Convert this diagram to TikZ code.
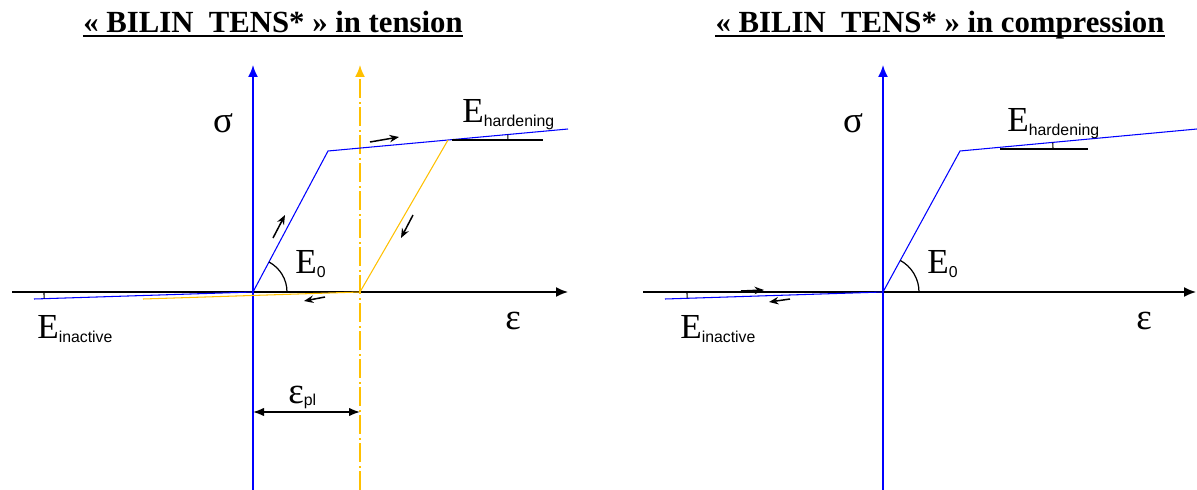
\documentclass[tikz,border=0pt]{standalone}
\usepackage{fontspec}
\setmainfont{Liberation Serif}
\setsansfont{Liberation Sans}
\usetikzlibrary{arrows.meta}
\definecolor{curveblue}{RGB}{0,0,255}
\definecolor{unload}{RGB}{255,192,0}
\newcommand{\Elab}[1]{\fontsize{20}{20}\selectfont E\raisebox{-0.09cm}{\sffamily\fontsize{9}{9}\selectfont #1}}
\newcommand{\greek}[1]{\fontsize{21}{21}\selectfont #1}

\begin{document}
\begin{tikzpicture}[x=0.02cm,y=-0.02cm,
	axis/.style={line width=0.9pt,-{Latex[length=0.24cm,width=0.2cm]}},
	law/.style={curveblue,line width=0.6pt},
	unl/.style={unload,line width=0.6pt},
	move/.style={line width=0.85pt,-{Stealth[length=0.19cm,width=0.15cm]}},
	lab/.style={inner sep=0pt,anchor=base west},
	title/.style={inner sep=0pt,anchor=base,font=\bfseries\fontsize{17.5}{17.5}\selectfont}]
	\useasboundingbox (0,0) rectangle (1197,490);

	% tension
	\node[title] (T1) at (273,32) {« BILIN\ \ TENS* » in tension};
	\draw[line width=0.9pt] ([yshift=-0.08cm]T1.base west) -- ([yshift=-0.08cm]T1.base east);
	\coordinate (O1) at (253,292);
	\coordinate (Y1) at (328,151);
	\coordinate (U1) at (448,140);
	\coordinate (H1) at (568,129);
	\coordinate (P1) at (360,292);
	\coordinate (N1) at (34,299);
	\coordinate (R1) at (143,299);
	\coordinate (xa1) at (12,292);
	\coordinate (xb1) at (568,292);
	\coordinate (ya1) at (253,490);
	\coordinate (yb1) at (253,65);
	\coordinate (pa1) at (360,490);
	\coordinate (pb1) at (360,65);
	\coordinate (ha1) at (452,140);
	\coordinate (hb1) at (543,140);
	\coordinate (da1) at (253,412);
	\coordinate (db1) at (360,412);
	\draw[axis] (xa1) -- (xb1);
	\draw[axis,curveblue,line width=1pt] (ya1) -- (yb1);
	\draw[axis,unload,line width=1pt,dash pattern=on 0.38cm off 0.07cm on 0.04cm off 0.07cm] (pa1) -- (pb1);
	\draw[law] (N1) -- (O1) -- (Y1) -- (H1);
	\draw[unl] (U1) -- (P1) -- (R1);
	\draw[line width=0.6pt] (ha1) -- (hb1);
	\draw[line width=0.6pt] (U1) ++(60,0) arc[start angle=0,end angle=-5.1,radius=60];
	\draw[line width=0.7pt] (O1) ++(34,0) arc[start angle=0,end angle=-62,radius=34];
	\draw[line width=0.6pt] (O1) ++(-209,0) arc[start angle=180,end angle=178.2,radius=209];
	\draw[line width=0.9pt,{Latex[length=0.22cm,width=0.17cm]}-{Latex[length=0.22cm,width=0.17cm]}] (da1) -- (db1);
	\coordinate (ma1) at (273,238);
	\coordinate (mb1) at (285,215);
	\coordinate (mc1) at (370,142);
	\coordinate (md1) at (399,137);
	\coordinate (me1) at (413,215);
	\coordinate (mf1) at (401,238);
	\coordinate (mg1) at (325,297);
	\coordinate (mh1) at (304,301);
	\draw[move] (ma1) -- (mb1);
	\draw[move] (mc1) -- (md1);
	\draw[move] (me1) -- (mf1);
	\draw[move] (mg1) -- (mh1);
	\node (sig1) at (223,123) {\greek{σ}};
	\node (eps1) at (513,321) {\greek{ε}};
	\node[lab] (eh1) at (462,122) {\Elab{hardening}};
	\node[lab] (ez1) at (295,273) {\Elab{0}};
	\node[lab] (ei1) at (37,338) {\Elab{inactive}};
	\node[lab] (epl) at (288,403) {\greek{ε}\raisebox{-0.04cm}{\sffamily\fontsize{9}{9}\selectfont pl}};

	% compression
	\node[title] (T2) at (940,32) {« BILIN\ \ TENS* » in compression};
	\draw[line width=0.9pt] ([yshift=-0.08cm]T2.base west) -- ([yshift=-0.08cm]T2.base east);
	\coordinate (O2) at (883,292);
	\coordinate (Y2) at (960,151);
	\coordinate (H2) at (1197,129);
	\coordinate (N2) at (665,299);
	\coordinate (C2) at (982,149);
	\coordinate (xa2) at (643,292);
	\coordinate (xb2) at (1196,292);
	\coordinate (ya2) at (883,490);
	\coordinate (yb2) at (883,65);
	\coordinate (ha2) at (1000,149);
	\coordinate (hb2) at (1088,149);
	\draw[axis] (xa2) -- (xb2);
	\draw[axis,curveblue,line width=1pt] (ya2) -- (yb2);
	\draw[law] (N2) -- (O2) -- (Y2) -- (H2);
	\draw[line width=0.6pt] (ha2) -- (hb2);
	\draw[line width=0.6pt] (C2) ++(71,0) arc[start angle=0,end angle=-5.2,radius=71];
	\draw[line width=0.7pt] (O2) ++(36,0) arc[start angle=0,end angle=-61.4,radius=36];
	\draw[line width=0.6pt] (O2) ++(-196,0) arc[start angle=180,end angle=178.2,radius=196];
	\coordinate (ma2) at (741,291);
	\coordinate (mb2) at (764,290);
	\coordinate (mc2) at (790,299);
	\coordinate (md2) at (769,302);
	\draw[move] (ma2) -- (mb2);
	\draw[move] (mc2) -- (md2);
	\node (sig2) at (853,123) {\greek{σ}};
	\node (eps2) at (1144,321) {\greek{ε}};
	\node[lab] (eh2) at (1007,131) {\Elab{hardening}};
	\node[lab] (ez2) at (927,273) {\Elab{0}};
	\node[lab] (ei2) at (680,338) {\Elab{inactive}};
\end{tikzpicture}
\end{document}
